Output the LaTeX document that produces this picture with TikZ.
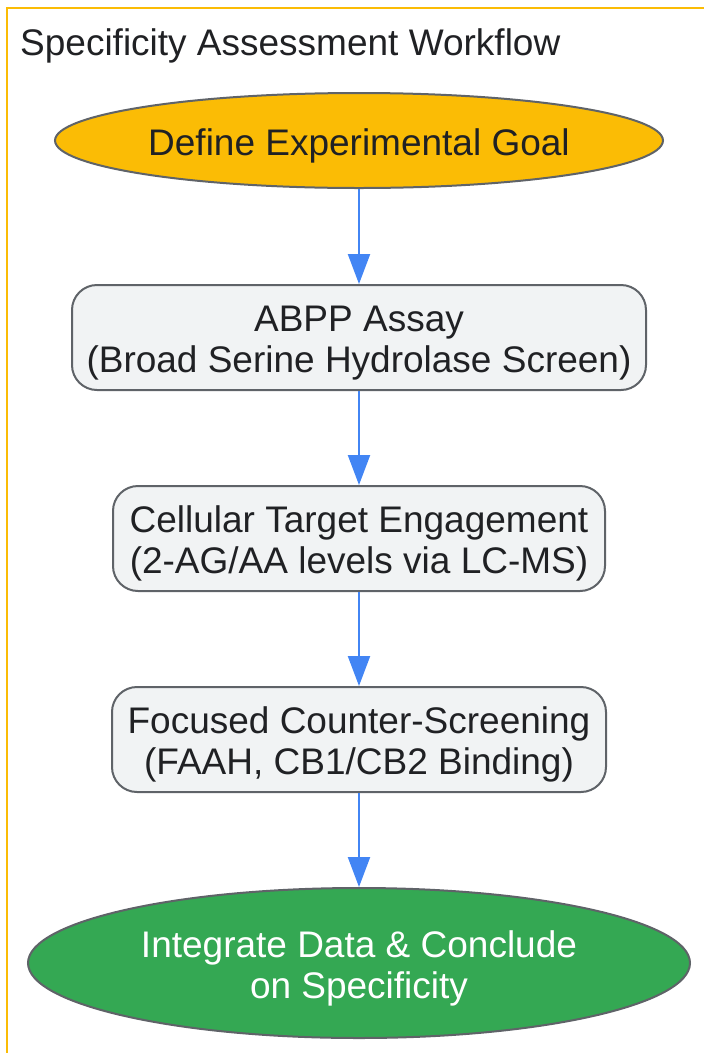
\documentclass[tikz,border=0pt]{standalone}
\usepackage{fontspec}
\setmainfont{Liberation Sans}
\usetikzlibrary{shapes.geometric, arrows.meta}

\definecolor{goalyellow}{HTML}{FBBC05}
\definecolor{endgreen}{HTML}{34A853}
\definecolor{stepgray}{HTML}{F1F3F4}
\definecolor{edgegray}{HTML}{5F6368}
\definecolor{textdark}{HTML}{202124}
\definecolor{arrowblue}{HTML}{4285F4}

\newcommand{\topstrut}{\rule{0pt}{37pt}}

\tikzset{
    every node/.style={font=\fontsize{37}{41}\selectfont, text=textdark, align=center, inner sep=0pt},
    terminal/.style={ellipse, draw=edgegray, line width=2pt},
    stepbox/.style={rectangle, rounded corners=25pt, draw=edgegray, fill=stepgray, line width=2pt, minimum height=105pt},
    flow/.style={draw=arrowblue, line width=2.2pt, -{Triangle[length=30pt, width=22pt]}}
}

\begin{document}
\begin{tikzpicture}[x=1pt, y=-1pt]
        \useasboundingbox (0,0) rectangle (704,1053);
        \draw[goalyellow, line width=2pt] (7,8) rectangle (720,1070);
        \node[anchor=west] (title) at (20,41) {\topstrut Specificity Assessment Workflow};
        \node[terminal, fill=goalyellow, minimum width=608pt, minimum height=95pt] (goal) at (359,140.5) {\topstrut Define Experimental Goal};
        \node[stepbox, minimum width=574pt] (abpp) at (359,337.5) {\topstrut ABPP Assay\\(Broad Serine Hydrolase Screen)};
        \node[stepbox, minimum width=492pt] (cell) at (359,538.5) {\topstrut Cellular Target Engagement\\(2-AG/AA levels via LC-MS)};
        \node[stepbox, minimum width=494pt] (counter) at (359,739.5) {\topstrut Focused Counter-Screening\\(FAAH, CB1/CB2 Binding)};
        \node[terminal, fill=endgreen, text=white, minimum width=662pt, minimum height=150pt] (concl) at (359,963) {\topstrut Integrate Data \& Conclude\\on Specificity};
        \draw[flow] (goal) -- (abpp);
        \draw[flow] (abpp) -- (cell);
        \draw[flow] (cell) -- (counter);
        \draw[flow] (counter) -- (concl);
    \end{tikzpicture}
\end{document}
